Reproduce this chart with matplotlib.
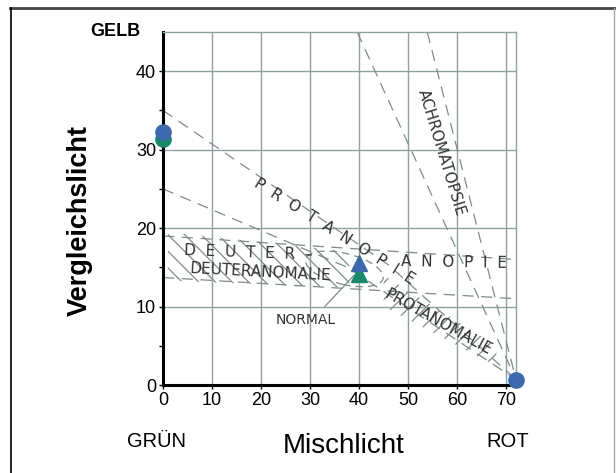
import matplotlib
matplotlib.use("Agg")
import matplotlib.pyplot as plt
from matplotlib.patches import Ellipse
from matplotlib.lines import Line2D
import numpy as np

# Anomaloskop: Einstellbereiche der Farbsinnstörungen
x_ticks = [0, 10, 20, 30, 40, 50, 60, 70]
y_ticks = [0, 10, 20, 30, 40]

# Begrenzungslinien (x, y)
protanopie_oben = ([0, 46, 72], [35, 15.3, 0.7])
protanopie_unten = ([0, 37.6, 72], [25, 15.0, 0.7])
deuteranopie_oben = ([0, 72], [19, 16])
deuteranopie_unten = ([0, 72], [13.7, 11])
achromatopsie_links = ([39.6, 72], [45, 0.7])
achromatopsie_rechts = ([53.9, 72], [45, 0.7])

# Schraffierte Bereiche
deuteranomalie_x = [1, 38]
deuteranomalie_unten = [13.3, 12.4]
deuteranomalie_oben = [19.5, 17.0]
protanomalie_x = [45, 68]
protanomalie_unten = [10.0, 2.4]
protanomalie_oben = [14.0, 5.0]

# Messpunkte
kreis_blau = ([0, 72], [32.2, 0.7])
kreis_gruen = ([0], [31.3])
dreieck_blau = ([40], [15.6])
dreieck_gruen = ([40], [14.1])

blau = '#3b69b0'
gruen = '#178a6c'
gitter = '#8ea2a2'
strich = '#7d8b8b'

plt.rcParams['hatch.linewidth'] = 0.9
plt.rcParams['hatch.color'] = strich

W, H = 616, 473
fig = plt.figure(figsize=(W / 100, H / 100), dpi=100)
ax = fig.add_axes([163 / W, 1 - 385 / H, (516 - 163) / W, (385 - 32) / H])
ax.set_xlim(0, 72)
ax.set_ylim(0, 45)

ax.set_xticks(x_ticks)
ax.set_yticks(y_ticks)
ax.set_yticks([5, 15, 25, 35], minor=True)
ax.grid(True, color=gitter, linewidth=1.0)
ax.set_axisbelow(True)
ax.tick_params(axis='both', which='both', direction='out', length=3, width=1,
               labelsize=13, pad=2)
for lab in ax.get_xticklabels() + ax.get_yticklabels():
    lab.set_fontfamily(['Liberation Sans', 'DejaVu Sans'])

for s in ['left', 'bottom']:
    ax.spines[s].set_color('black')
    ax.spines[s].set_linewidth(2.2)
for s in ['top', 'right']:
    ax.spines[s].set_color(gitter)
    ax.spines[s].set_linewidth(1.0)

dash = dict(color=strich, linewidth=0.9, linestyle=(0, (9, 6)))
for xs, ys in [protanopie_oben, protanopie_unten, deuteranopie_oben,
               deuteranopie_unten, achromatopsie_links, achromatopsie_rechts]:
    ax.plot(xs, ys, **dash)

ax.fill_between(deuteranomalie_x, deuteranomalie_unten, deuteranomalie_oben,
                facecolor='none', edgecolor=strich, linewidth=0, hatch='\\\\')
ax.fill_between(protanomalie_x, protanomalie_unten, protanomalie_oben,
                facecolor='none', edgecolor=strich, linewidth=0, hatch='//')

ax.add_patch(Ellipse((37, 14.8), 16, 4, angle=-8, fill=False,
                     edgecolor=strich, linewidth=0.9, linestyle=(0, (6, 4))))
ax.plot([33, 39], [10, 14], color=strich, linewidth=0.9)

lab_font = ['Liberation Sans Narrow', 'DejaVu Sans']
txt = dict(color='#333333', fontfamily=lab_font, ha='center', va='center')
ax.text(35, 19.6, 'P  R  O  T  A  N  O  P  I  E', rotation=-32, fontsize=11, **txt)
ax.text(17.3, 16.8, 'D  E  U  T  E  R  –', rotation=-2, fontsize=11, **txt)
ax.text(59.3, 15.6, 'A  N  O  P  I  E', rotation=-1, fontsize=11, **txt)
ax.text(19.8, 14.4, 'DEUTERANOMALIE', rotation=-3, fontsize=11, **txt)
ax.text(56.1, 8.0, 'PROTANOMALIE', rotation=-29, fontsize=11, **txt)
ax.text(56.7, 29.6, 'ACHROMATOPSIE', rotation=-73, fontsize=11, **txt)
ax.text(29.2, 8.3, 'NORMAL', rotation=0, fontsize=10, **txt)

ax.plot(kreis_gruen[0], kreis_gruen[1], 'o', color=gruen, markersize=11, clip_on=False, zorder=5)
ax.plot(kreis_blau[0], kreis_blau[1], 'o', color=blau, markersize=11, clip_on=False, zorder=6)
ax.plot(dreieck_gruen[0], dreieck_gruen[1], '^', color=gruen, markersize=12, zorder=5)
ax.plot(dreieck_blau[0], dreieck_blau[1], '^', color=blau, markersize=12, zorder=6)

sans = ['Liberation Sans', 'DejaVu Sans']
fig.text(80 / W, 1 - 220 / H, 'Vergleichslicht', rotation=90, fontsize=19.5,
         fontweight='bold', fontfamily=sans, ha='center', va='center')
fig.text(344 / W, 1 - 446 / H, 'Mischlicht', fontsize=20, fontfamily=sans,
         ha='center', va='center')
fig.text(115 / W, 1 - 32 / H, 'GELB', fontsize=13, fontweight='bold',
         fontfamily=sans, ha='center', va='center')
fig.text(157 / W, 1 - 441 / H, 'GRÜN', fontsize=14.5, fontfamily=sans,
         ha='center', va='center')
fig.text(508 / W, 1 - 441 / H, 'ROT', fontsize=14.5, fontfamily=sans,
         ha='center', va='center')

# Rahmen
fig.add_artist(Line2D([10 / W, 1], [1 - 8 / H, 1 - 8 / H], color='#444444', linewidth=2))
fig.add_artist(Line2D([11 / W, 11 / W], [0, 1 - 8 / H], color='black', linewidth=1.2))
fig.add_artist(Line2D([614 / W, 614 / W], [0, 1 - 8 / H], color='#aaaaaa', linewidth=1))

fig.savefig('out.png', dpi=100)
